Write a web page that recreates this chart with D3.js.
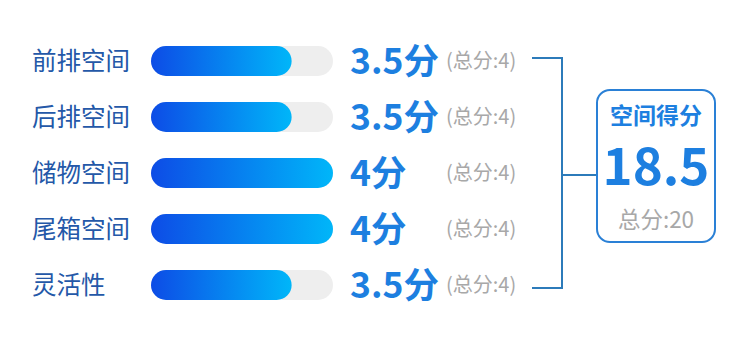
<!DOCTYPE html>
<html>
<head>
<meta charset="utf-8">
<script src="https://cdn.jsdelivr.net/npm/d3@7"></script>
<style>
    html, body { margin: 0; padding: 0; background: #fff; }
    #chart { width: 750px; height: 339px; }
    text { font-family: "Noto Sans CJK SC", "Noto Sans", sans-serif; }
</style>
</head>
<body>
<div id="chart"></div>
<script>
// Data
var categories = ['前排空间', '后排空间', '储物空间', '尾箱空间', '灵活性'];
var scores = [3.5, 3.5, 4, 4, 3.5];
var maxScores = [4, 4, 4, 4, 4];
var summaryTitle = '空间得分';
var summaryScore = 18.5;
var summaryTotal = 20;

(function () {
    var width = 750, height = 339;

    var svg = d3.select('#chart')
        .append('svg')
        .attr('width', width)
        .attr('height', height);

    var defs = svg.append('defs');
    var grad = defs.append('linearGradient')
        .attr('id', 'barGrad')
        .attr('x1', '0%').attr('x2', '100%')
        .attr('y1', '0%').attr('y2', '0%');
    grad.append('stop').attr('offset', '0%').attr('stop-color', '#0d4ce6');
    grad.append('stop').attr('offset', '100%').attr('stop-color', '#00b6f9');

    var rows = categories.map(function (c, i) {
        return { label: c, score: scores[i], total: maxScores[i] };
    });

    var y = d3.scalePoint()
        .domain(categories)
        .range([61, 285]);

    // bar scale (fill ends a bit short of a pure 0-based ratio in the source)
    var x = d3.scaleLinear()
        .domain([1.8, 4])
        .range([151, 333]);

    var barH = 30;

    var row = svg.selectAll('.row')
        .data(rows)
        .enter()
        .append('g')
        .attr('class', 'row')
        .attr('transform', function (d) { return 'translate(0,' + y(d.label) + ')'; });

    row.append('text')
        .attr('x', 32)
        .attr('y', 0)
        .attr('dy', '0.36em')
        .attr('fill', '#2458a8')
        .style('font-size', '24.5px')
        .text(function (d) { return d.label; });

    // track
    row.append('rect')
        .attr('x', x(1.8))
        .attr('y', -barH / 2)
        .attr('width', function (d) { return x(d.total) - x(1.8); })
        .attr('height', barH)
        .attr('rx', barH / 2)
        .attr('fill', '#eeeeee');

    // fill
    row.append('rect')
        .attr('x', x(1.8))
        .attr('y', -barH / 2)
        .attr('width', function (d) { return x(d.score) - x(1.8); })
        .attr('height', barH)
        .attr('rx', barH / 2)
        .attr('fill', 'url(#barGrad)');

    row.append('text')
        .attr('x', 350)
        .attr('y', 0)
        .attr('dy', '0.36em')
        .attr('fill', '#1d7fe0')
        .style('font-size', '35.5px')
        .style('font-weight', 'bold')
        .text(function (d) { return d.score + '分'; });

    row.append('text')
        .attr('x', 446)
        .attr('y', 0)
        .attr('dy', '0.36em')
        .attr('fill', '#a8a8a8')
        .style('font-size', '20px')
        .text(function (d) { return '(总分:' + d.total + ')'; });

    // bracket
    var bx0 = 532, bx1 = 562, bx2 = 597;
    var top = y(categories[0]) - 3;
    var bottom = y(categories[categories.length - 1]) + 3;
    var mid = (top + bottom) / 2 + 2;
    var stroke = '#2c7bba';

    svg.append('path')
        .attr('d', 'M' + bx0 + ',' + top + 'H' + bx1 + 'V' + bottom + 'H' + bx0)
        .attr('fill', 'none')
        .attr('stroke', stroke)
        .attr('stroke-width', 2);

    svg.append('line')
        .attr('x1', bx1).attr('x2', bx2)
        .attr('y1', mid).attr('y2', mid)
        .attr('stroke', stroke)
        .attr('stroke-width', 2);

    // summary box
    var box = svg.append('g').attr('transform', 'translate(597,90)');
    var boxW = 118, boxH = 152;
    box.append('rect')
        .attr('x', 0).attr('y', 0)
        .attr('width', boxW).attr('height', boxH)
        .attr('rx', 13)
        .attr('fill', '#fff')
        .attr('stroke', '#2a80d6')
        .attr('stroke-width', 2);

    box.append('text')
        .attr('x', boxW / 2)
        .attr('y', 26)
        .attr('dy', '0.36em')
        .attr('text-anchor', 'middle')
        .attr('fill', '#1d7fe0')
        .style('font-size', '23px')
        .style('font-weight', 'bold')
        .text(summaryTitle);

    box.append('text')
        .attr('x', boxW / 2)
        .attr('y', 95)
        .attr('text-anchor', 'middle')
        .attr('fill', '#1d7fe0')
        .style('font-size', '51px')
        .style('font-weight', 'bold')
        .text(summaryScore);

    box.append('text')
        .attr('x', boxW / 2)
        .attr('y', 130)
        .attr('dy', '0.36em')
        .attr('text-anchor', 'middle')
        .attr('fill', '#a8a8a8')
        .style('font-size', '22.5px')
        .text('总分:' + summaryTotal);
})();
</script>
</body>
</html>
